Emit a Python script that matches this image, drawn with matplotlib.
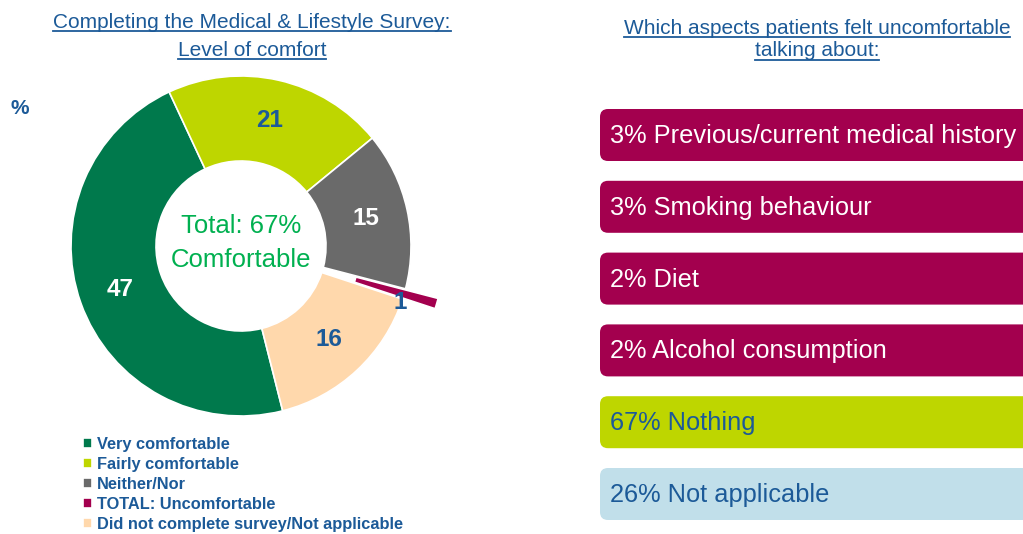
import matplotlib
matplotlib.use('Agg')
import matplotlib.pyplot as plt
from matplotlib.patches import FancyBboxPatch
from matplotlib.lines import Line2D

# Level of comfort completing the survey (%)
comfort_labels = ['Very comfortable', 'Fairly comfortable', 'Neither/Nor',
                  'TOTAL: Uncomfortable', 'Did not complete survey/Not applicable']
comfort_values = [47, 21, 15, 1, 16]
comfortable_total = 67

# Aspects patients felt uncomfortable talking about (%)
aspects = ['Previous/current medical history', 'Smoking behaviour', 'Diet',
           'Alcohol consumption', 'Nothing', 'Not applicable']
aspect_pct = [3, 3, 2, 2, 67, 26]

BLUE = '#1C5A98'
comfort_colors = ['#00794C', '#BED600', '#6A6A6A', '#A3004E', '#FFD8AC']
label_colors = ['white', BLUE, 'white', BLUE, BLUE]
aspect_colors = ['#A3004E', '#A3004E', '#A3004E', '#A3004E', '#BED600', '#C1DFEA']
aspect_text = ['white', 'white', 'white', 'white', BLUE, BLUE]

plt.rcParams['font.family'] = ['Liberation Sans', 'DejaVu Sans']

W, H = 1023, 534
fig = plt.figure(figsize=(W / 100, H / 100), dpi=100)

# pixel-space overlay for titles and the boxes on the right
bg = fig.add_axes([0, 0, 1, 1])
bg.set_xlim(0, W)
bg.set_ylim(H, 0)
bg.axis('off')

# donut, centre at (241, 246) px, radius 170 px
cx, cy, R = 241, 246, 170
span = 1.3
side = 2 * span * R
ax = fig.add_axes([(cx - side / 2) / W, (H - cy - side / 2) / H, side / W, side / H])
wedges, _, autotexts = ax.pie(
    comfort_values, colors=comfort_colors, startangle=115 + 3.6 * comfort_values[0],
    counterclock=False, explode=[0, 0, 0, 0.2, 0],
    autopct=lambda p: f'{p:.0f}', pctdistance=0.755,
    wedgeprops=dict(width=0.5, edgecolor='white', linewidth=1.2))
for t, c in zip(autotexts, label_colors):
    t.set_color(c)
    t.set_fontsize(17.5)
    t.set_fontweight('bold')
# the small exploded slice gets its label just under the bar
autotexts[3].set_position((autotexts[3].get_position()[0] + 0.02,
                           autotexts[3].get_position()[1] - 0.06))
ax.set_xlim(-span, span)
ax.set_ylim(-span, span)
ax.axis('off')

ax.text(0, 0.12, f'Total: {comfortable_total}%', ha='center', va='center',
        color='#00B050', fontsize=18.5)
ax.text(0, -0.08, 'Comfortable', ha='center', va='center',
        color='#00B050', fontsize=18.5)

bg.text(20, 108, '%', ha='center', va='center', color=BLUE,
        fontsize=15, fontweight='bold')

fig.legend(wedges, comfort_labels, loc='upper left',
           bbox_to_anchor=(83 / W, 1 - 437 / H), frameon=False,
           labelcolor=BLUE, prop={'weight': 'bold', 'size': 11.8},
           handlelength=0.55, handleheight=0.55, handletextpad=0.3,
           labelspacing=0.3, borderpad=0, borderaxespad=0)

# titles with underline
titles = [
    (252, 22, 'Completing the Medical & Lifestyle Survey:'),
    (252, 50, 'Level of comfort'),
    (817, 28, 'Which aspects patients felt uncomfortable'),
    (817, 51, 'talking about:'),
]
title_objs = [bg.text(x, y, s, ha='center', va='center', color=BLUE, fontsize=15)
              for x, y, s in titles]

# boxes on the right
top0, pitch, bh = 109, 71.8, 52
for i, (name, pct) in enumerate(zip(aspects, aspect_pct)):
    top = top0 + i * pitch
    bg.add_patch(FancyBboxPatch((600, top), 460, bh,
                                boxstyle='round,pad=0,rounding_size=8',
                                facecolor=aspect_colors[i], edgecolor='none'))
    bg.text(610, top + bh / 2 + 1, f'{pct}% {name}', ha='left', va='center',
            color=aspect_text[i], fontsize=18.3)

fig.canvas.draw()
renderer = fig.canvas.get_renderer()
for t in title_objs:
    bb = t.get_window_extent(renderer)
    y = bb.y0 + 1
    fig.add_artist(Line2D([bb.x0 / W, bb.x1 / W], [y / H, y / H],
                          color=BLUE, linewidth=1.3, transform=fig.transFigure))

fig.savefig('out.png', dpi=100)
